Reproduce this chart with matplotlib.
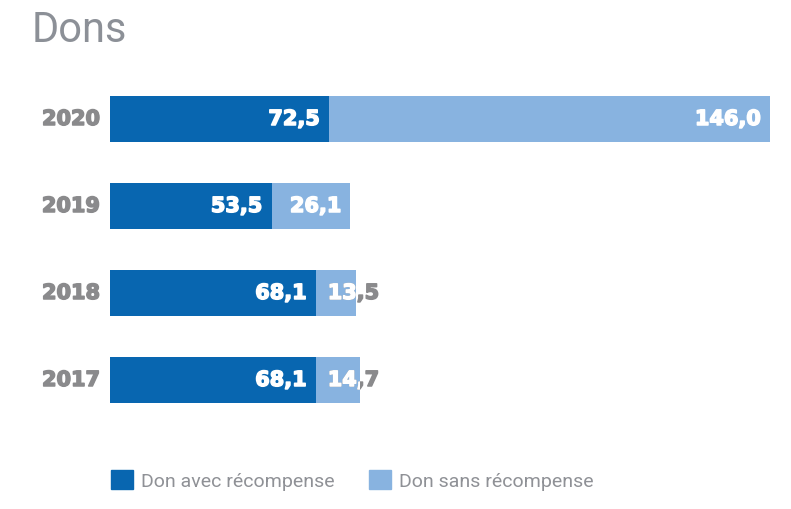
import matplotlib.pyplot as plt
from matplotlib.patches import Patch
import matplotlib.patheffects as pe

years = ['2017', '2018', '2019', '2020']
avec = [68.1, 68.1, 53.5, 72.5]
sans = [14.7, 13.5, 26.1, 146.0]
labels = ['Don avec récompense', 'Don sans récompense']

dark = '#0866b0'
light = '#88b3e0'
grey = '#8a8a8c'

W, H = 791, 510
fig = plt.figure(figsize=(W / 100, H / 100), dpi=100)
# axes placed in pixels: x from 110 to 780, y from 76 to 424 (top-down)
ax = fig.add_axes([110 / W, (H - 424.5) / H, 670 / W, 348 / H])
ax.set_xlim(0, 670 / 3.02)
ax.set_ylim(-0.5, 3.5)
ax.axis('off')

fs = 15
y = range(len(years))
b1 = ax.barh(y, avec, height=0.53, color=dark)
b2 = ax.barh(y, sans, left=avec, height=0.53, color=light)

def heavy(c):
    return [pe.withStroke(linewidth=1.1, foreground=c)]

def put(bars, vals, starts):
    for bar, v, s in zip(bars, vals, starts):
        txt = f'{v:.1f}'.replace('.', ',')
        end = s + v
        if v < 20:
            # label does not fit: starts inside the bar, spills out in grey
            x, ha = s + 4.0, 'left'
        else:
            x, ha = end - 3.0, 'right'
        yc = bar.get_y() + bar.get_height() / 2
        if v < 20:
            ax.text(x, yc, txt, ha=ha, va='center', color=grey, fontsize=fs,
                    fontweight='bold', path_effects=heavy(grey))
        t = ax.text(x, yc, txt, ha=ha, va='center', color='white', fontsize=fs,
                    fontweight='bold', path_effects=heavy('white'))
        t.set_clip_on(True)
        t.set_clip_path(bar)

put(b1, avec, [0] * 4)
put(b2, sans, avec)

for i, yr in enumerate(years):
    ax.text(-3.3, i, yr, ha='right', va='center', color=grey, fontsize=fs,
            fontweight='bold', path_effects=heavy(grey))

fig.text(32 / W, 1 - 31 / H, 'Dons', fontsize=30, color='#8c9097',
         family='Roboto', fontweight='normal', va='center', ha='left')

handles = [Patch(color=dark), Patch(color=light)]
fig.legend(handles, labels, loc='center left', bbox_to_anchor=(111 / W, 1 - 481 / H),
           ncol=2, frameon=False, handlelength=1.13, handleheight=1.13,
           handletextpad=0.4, columnspacing=1.8, borderpad=0, borderaxespad=0,
           prop={'family': 'Roboto', 'weight': 'normal', 'size': 14}, labelcolor='#8f9196')

fig.savefig('out.png', dpi=100)
